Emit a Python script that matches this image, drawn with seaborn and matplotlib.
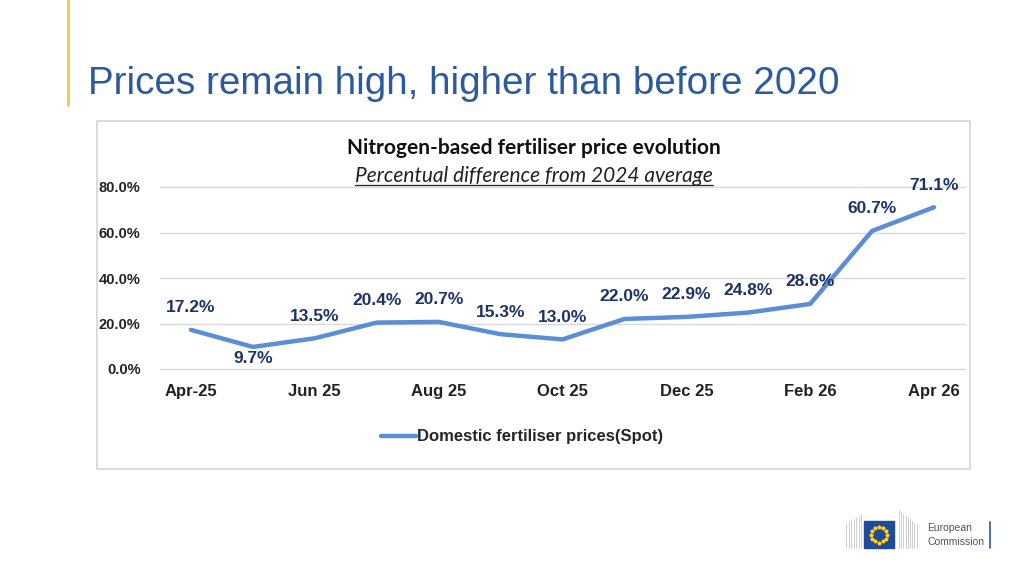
"""
Nitrogen-based fertiliser price evolution (slide recreation)
"""

import matplotlib.patches as mpatches
import numpy as np
import pandas as pd
import seaborn as sns
from matplotlib import pyplot as plt
from matplotlib.lines import Line2D

# data
months = ["Apr-25", "May 25", "Jun 25", "Jul 25", "Aug 25", "Sep 25", "Oct 25",
          "Nov 25", "Dec 25", "Jan 26", "Feb 26", "Mar 26", "Apr 26"]
price_diff = [17.2, 9.7, 13.5, 20.4, 20.7, 15.3, 13.0, 22.0, 22.9, 24.8, 28.6, 60.7, 71.1]
tick_labels = ["Apr-25", "Jun 25", "Aug 25", "Oct 25", "Dec 25", "Feb 26", "Apr 26"]
y_ticks = [0, 20, 40, 60, 80]
series_name = "Domestic fertiliser prices(Spot)"

df = pd.DataFrame({"month": months, "value": price_diff})

sns.set_theme(style="white")
plt.rcParams["font.family"] = ["Liberation Sans", "DejaVu Sans"]

LINE = "#5B8ED6"
LABEL = "#1F3266"
TEXT = "#222222"

fig = plt.figure(figsize=(10.24, 5.76), dpi=100)
W, H = 1024, 576


def fx(px):
    return px / W


def fy(py):
    return 1 - py / H


# slide title + yellow accent bar
fig.add_artist(Line2D([fx(68), fx(68)], [fy(0), fy(105)], color="#F2C94C", lw=2))
fig.text(fx(88), fy(84), "Prices remain high, higher than before 2020",
         fontsize=27.8, color="#2C5AA0", va="center", ha="left")

# chart frame
fig.add_artist(mpatches.Rectangle((fx(97), fy(469)), fx(873), 348 / H,
                                  transform=fig.transFigure, fill=False,
                                  edgecolor="#D4D4D4", lw=1.2))

# chart title / subtitle
fig.text(fx(534), fy(148), "Nitrogen-based fertiliser price evolution",
         fontsize=15, fontweight="bold", family="Lato", color="#111111",
         ha="center", va="center")
sub = fig.text(fx(534), fy(176), "Percentual difference from 2024 average",
               fontsize=15, style="italic", family="Lato", color="#222222",
               ha="center", va="center")

# plot area
ax = fig.add_axes([fx(160), fy(369), fx(805), 182 / H])
sns.lineplot(data=df, x="month", y="value", sort=False, color=LINE,
             linewidth=3.2, ax=ax, legend=False)

ax.set_xlim(-0.5, len(months) - 0.5)
ax.set_ylim(0, 80)
ax.set_yticks(y_ticks)
ax.set_yticklabels([f"{v:.1f}%" for v in y_ticks], fontsize=10.5,
                   fontweight="bold", color=TEXT)
ax.set_xticks(np.arange(0, len(months), 2))
ax.set_xticklabels(tick_labels, fontsize=12, fontweight="bold", color=TEXT)
ax.tick_params(axis="y", length=0, pad=14)
ax.tick_params(axis="x", length=0, pad=11)
ax.set_xlabel("")
ax.set_ylabel("")
ax.grid(axis="y", color="#D9D9D9", lw=1)
for gl in ax.get_ygridlines():
    gl.set_clip_on(False)
ax.set_axisbelow(True)
for s in ax.spines.values():
    s.set_visible(False)
ax.patch.set_alpha(0)

# data labels
below = {1}
for i, v in enumerate(price_diff):
    off = -12 if i in below else 22
    ax.annotate(f"{v:.1f}%", (i, v), xytext=(0, off), textcoords="offset pixels",
                ha="center", va="center", fontsize=12.5, fontweight="bold",
                color=LABEL, annotation_clip=False)

# legend
handle = Line2D([], [], color=LINE, lw=3.2)
fig.legend([handle], [series_name], loc="center", bbox_to_anchor=(fx(522), fy(437)),
           frameon=False, handlelength=2.1, handletextpad=0.1,
           prop={"weight": "bold", "size": 12})

# underline the subtitle
fig.canvas.draw()
bb = sub.get_window_extent().transformed(fig.transFigure.inverted())
fig.add_artist(Line2D([bb.x0, bb.x1], [bb.y0 + 0.002, bb.y0 + 0.002],
                      color="#222222", lw=0.9))

# EU Commission logo (simplified)
for k in range(7):
    fig.add_artist(Line2D([fx(846 + k * 2.5), fx(846 + k * 2.5)],
                          [fy(548), fy(523 - k * 1.5)], color="#C8C8C8", lw=0.6))
for k in range(9):
    fig.add_artist(Line2D([fx(899 + k * 2.2), fx(899 + k * 2.2)],
                          [fy(548), fy(510 + k * 1.8)], color="#C8C8C8", lw=0.6))
fig.add_artist(mpatches.Rectangle((fx(864), fy(548)), fx(30), 27 / H,
                                  transform=fig.transFigure, color="#1F4B99"))
ang = np.linspace(0, 2 * np.pi, 12, endpoint=False)
fig.add_artist(Line2D(fx(879) + fx(8) * np.cos(ang), fy(534.5) + (8 / H) * np.sin(ang),
                      ls="none", marker="*", ms=2.6, color="#FFD617"))
fig.text(fx(927), fy(528), "European", fontsize=7.5, color="#555555", va="center")
fig.text(fx(927), fy(542), "Commission", fontsize=7.5, color="#555555", va="center")
fig.add_artist(Line2D([fx(990), fx(990)], [fy(522), fy(548)], color="#2C5AA0", lw=1.2))

plt.savefig("out.png", dpi=100)
